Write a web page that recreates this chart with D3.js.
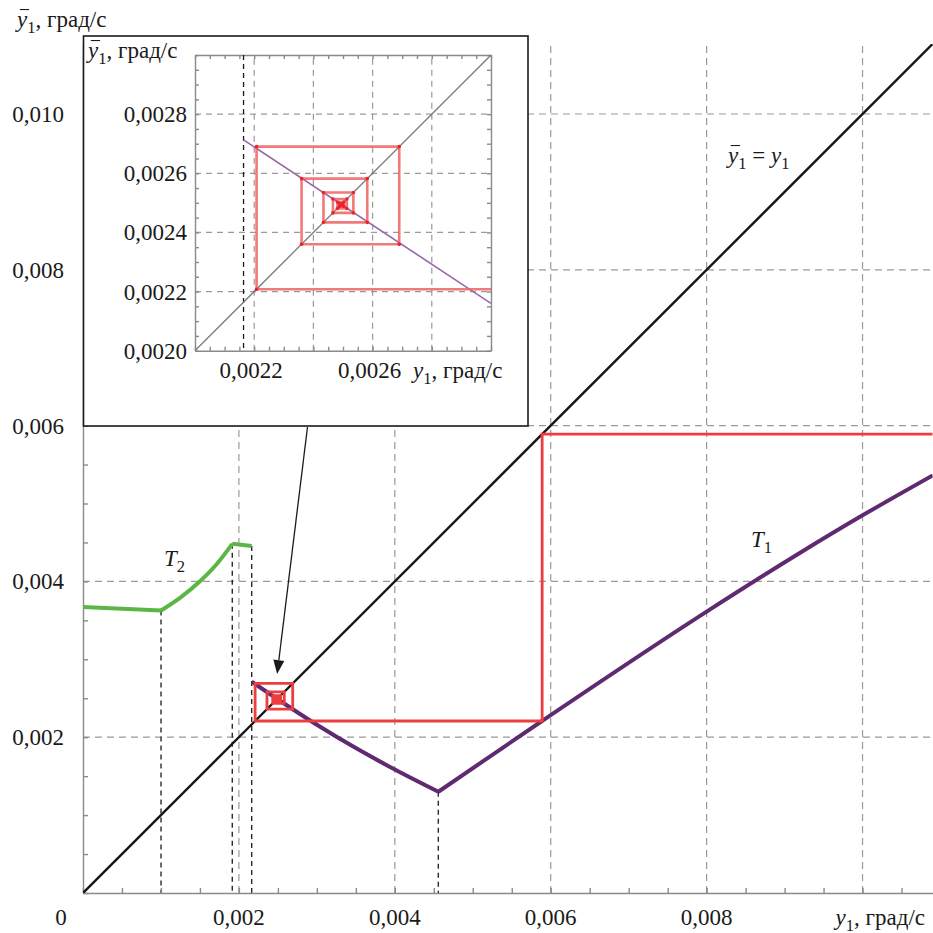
<!DOCTYPE html>
<html>
<head>
<meta charset="utf-8">
<script src="https://cdn.jsdelivr.net/npm/d3@7"></script>
<style>
  body { margin: 0; background: #fff; }
</style>
</head>
<body>
<svg id="chart" width="933" height="933"></svg>
<script>
// ---- data ----
const yTickValues = [0.002, 0.004, 0.006, 0.008, 0.010];
const yTickLabels = ["0,002", "0,004", "0,006", "0,008", "0,010"];
const xTickValues = [0.002, 0.004, 0.006, 0.008];
const xTickLabels = ["0,002", "0,004", "0,006", "0,008"];
const gridValues = [0.002, 0.004, 0.006, 0.008, 0.010];

// branch T2 of the map
const t2Flat = [[0, 0.003671], [0.001001, 0.003626]];
const t2Rise = [[0.001001, 0.003626], [0.001244, 0.003789], [0.001501, 0.004002], [0.001719, 0.004227], [0.001915, 0.004482]];
const t2Tail = [[0.001915, 0.004482], [0.002164, 0.004454]];

// branch T1 of the map
const t1Down = [[0.002164, 0.002713], [0.0030, 0.00216], [0.0035, 0.00186], [0.0040, 0.001585], [0.004558, 0.0013]];
const t1Up = [[0.004558, 0.0013], [0.005888, 0.002208], [0.0080, 0.003612], [0.0092, 0.004368], [0.0100, 0.004848], [0.0109, 0.005361]];

// switching points dropped to the abscissa
const dropX = [0.001001, 0.001915, 0.002164, 0.004558];
const dropY = [0.003626, 0.004482, 0.004454, 0.0013];

// iterates of the map (cobweb diagram)
const iterates = [0.00589, 0.002208, 0.00269, 0.00236, 0.002582, 0.002434, 0.002535, 0.002466,
                  0.002513, 0.002481, 0.002503, 0.002488, 0.002498, 0.00249, 0.002496, 0.002492, 0.002495, 0.002493];

// inset
const insetTickValues = [0.0020, 0.0022, 0.0024, 0.0026, 0.0028];
const insetTickLabels = ["0,0020", "0,0022", "0,0024", "0,0026", "0,0028"];
const insetXLabelValues = [0.0022, 0.0026];
const insetXLabels = ["0,0022", "0,0026"];
const insetGrid = [0.0022, 0.0024, 0.0026, 0.0028];
const switchX = 0.002164;

// ---- layout ----
const svg = d3.select("#chart");
const FONT = "'Liberation Serif'";
const FS = 23;
const VMAX = 0.0109;
const x = d3.scaleLinear().domain([0, VMAX]).range([83, 932.7]);
const y = d3.scaleLinear().domain([0, VMAX]).range([893, 43.9]);

const GRID = "#9a9a9a";
const AXIS = "#8a8a8a";
const RED = "#ec3e3e";
const PURPLE = "#5f2a6f";
const GREEN = "#5cb646";

const defs = svg.append("defs");
defs.append("clipPath").attr("id", "mainClip").append("rect")
  .attr("x", x(0)).attr("y", y(VMAX)).attr("width", x(VMAX) - x(0)).attr("height", y(0) - y(VMAX));

const line = d3.line().x(d => x(d[0])).y(d => y(d[1]));
const smooth = d3.line().x(d => x(d[0])).y(d => y(d[1])).curve(d3.curveMonotoneX);

function label(parent, px, py, str, anchor) {
  return parent.append("text").attr("x", px).attr("y", py)
    .style("font-family", FONT).style("font-size", FS + "px").style("fill", "#1a1a1a")
    .attr("text-anchor", anchor || "start").text(str);
}

// rich text with italic letters, subscripts and overlines
function richText(parent, px, py, size, parts, anchor) {
  const t = parent.append("text").attr("x", px).attr("y", py)
    .style("font-family", FONT).style("font-size", size + "px").style("fill", "#1a1a1a")
    .attr("text-anchor", anchor || "start");
  let shifted = false;
  const overIdx = [];
  let idx = 0;
  parts.forEach(p => {
    const s = t.append("tspan").text(p.t);
    if (p.italic) s.style("font-style", "italic");
    if (p.sub) {
      s.style("font-size", (size * 0.72) + "px");
      if (!shifted) { s.attr("dy", size * 0.26); shifted = true; }
    } else if (shifted) {
      s.attr("dy", -size * 0.26); shifted = false;
    }
    if (p.over) for (let k = 0; k < p.t.length; k++) overIdx.push(idx + k);
    idx += p.t.length;
  });
  overIdx.forEach(i => {
    const r = t.node().getExtentOfChar(i);
    parent.append("line")
      .attr("x1", r.x + size * 0.12).attr("x2", r.x + r.width + size * 0.08)
      .attr("y1", py - size * 0.76).attr("y2", py - size * 0.76)
      .attr("stroke", "#1a1a1a").attr("stroke-width", 1.1);
  });
  return t;
}
const yBarUnits = [{t: "y", italic: true, over: true}, {t: "1", sub: true}, {t: ", град/с"}];
const yUnits = [{t: "y", italic: true}, {t: "1", sub: true}, {t: ", град/с"}];

// ---- main grid ----
const grid = svg.append("g");
grid.selectAll(".gx").data(gridValues).join("line")
  .attr("x1", d => x(d)).attr("x2", d => x(d)).attr("y1", y(0)).attr("y2", y(VMAX))
  .attr("stroke", GRID).attr("stroke-width", 1.2).attr("stroke-dasharray", "7,5");
grid.selectAll(".gy").data(gridValues).join("line")
  .attr("x1", x(0)).attr("x2", x(VMAX)).attr("y1", d => y(d)).attr("y2", d => y(d))
  .attr("stroke", GRID).attr("stroke-width", 1.2).attr("stroke-dasharray", "7,5");

// drop lines from switching points
svg.append("g").selectAll("line").data(dropX).join("line")
  .attr("x1", d => x(d)).attr("x2", d => x(d))
  .attr("y1", (d, i) => y(dropY[i])).attr("y2", y(0))
  .attr("stroke", "#2a2a2a").attr("stroke-width", 1.4).attr("stroke-dasharray", "5,4");

// ---- axes with minor ticks ----
const minor = d3.range(0, VMAX + 1e-9, 0.0005);
svg.append("g").attr("transform", `translate(0,${y(0)})`)
  .call(d3.axisBottom(x).tickValues(minor).tickSize(-5).tickSizeOuter(0).tickFormat(""))
  .call(g => g.selectAll("line, path").attr("stroke", AXIS).attr("stroke-width", 1.4));
svg.append("g").attr("transform", `translate(${x(0)},0)`)
  .call(d3.axisLeft(y).tickValues(minor).tickSize(-5).tickSizeOuter(0).tickFormat(""))
  .call(g => g.selectAll("line, path").attr("stroke", AXIS).attr("stroke-width", 1.4));

// ---- curves ----
const plot = svg.append("g").attr("clip-path", "url(#mainClip)");
plot.append("path").datum([[0, 0], [VMAX, VMAX]]).attr("d", line)
  .attr("fill", "none").attr("stroke", "#161616").attr("stroke-width", 2.4);

[t2Flat, t2Tail].forEach(s => plot.append("path").datum(s).attr("d", line)
  .attr("fill", "none").attr("stroke", GREEN).attr("stroke-width", 4));
plot.append("path").datum(t2Rise).attr("d", smooth)
  .attr("fill", "none").attr("stroke", GREEN).attr("stroke-width", 4);

[t1Down, t1Up].forEach(s => plot.append("path").datum(s).attr("d", smooth)
  .attr("fill", "none").attr("stroke", PURPLE).attr("stroke-width", 4).attr("stroke-linejoin", "round"));

// cobweb
const web = [[VMAX, iterates[0]]];
iterates.forEach((v, i) => {
  web.push([v, v]);
  if (i + 1 < iterates.length) web.push([v, iterates[i + 1]]);
});
plot.append("path").datum(web).attr("d", line)
  .attr("fill", "none").attr("stroke", RED).attr("stroke-width", 2.8).attr("stroke-linejoin", "miter");

// ---- main labels ----
const labels = svg.append("g");
yTickValues.forEach((v, i) => label(labels, 64, y(v) + 8, yTickLabels[i], "end"));
xTickValues.forEach((v, i) => label(labels, x(v), 925, xTickLabels[i], "middle"));
label(labels, 61, 925, "0", "middle");
richText(labels, 925, 925, FS, yUnits, "end");
richText(labels, 17, 27, FS, yBarUnits);
richText(labels, 164, 566, FS, [{t: "T", italic: true}, {t: "2", sub: true}]);
richText(labels, 751, 547, FS, [{t: "T", italic: true}, {t: "1", sub: true}]);
richText(labels, 728, 163, FS, [{t: "y", italic: true, over: true}, {t: "1", sub: true}, {t: " = "},
                                {t: "y", italic: true}, {t: "1", sub: true}]);

// ---- inset ----
const inset = svg.append("g");
inset.append("rect").attr("x", 83.5).attr("y", 36).attr("width", 444.5).attr("height", 390)
  .attr("fill", "#fff").attr("stroke", "#1a1a1a").attr("stroke-width", 1.6);

const ix = d3.scaleLinear().domain([0.002, 0.003]).range([195, 491]);
const iy = d3.scaleLinear().domain([0.002, 0.003]).range([350.7, 55]);
defs.append("clipPath").attr("id", "insetClip").append("rect")
  .attr("x", 195).attr("y", 55).attr("width", 296).attr("height", 295.7);
const iline = d3.line().x(d => ix(d[0])).y(d => iy(d[1]));

inset.selectAll(".igx").data(insetGrid).join("line")
  .attr("x1", d => ix(d)).attr("x2", d => ix(d)).attr("y1", iy(0.002)).attr("y2", iy(0.003))
  .attr("stroke", GRID).attr("stroke-width", 1.2).attr("stroke-dasharray", "6,5");
inset.selectAll(".igy").data(insetGrid).join("line")
  .attr("x1", ix(0.002)).attr("x2", ix(0.003)).attr("y1", d => iy(d)).attr("y2", d => iy(d))
  .attr("stroke", GRID).attr("stroke-width", 1.2).attr("stroke-dasharray", "6,5");

const iminor = d3.range(0.002, 0.003 + 1e-9, 0.00005);
const styleAx = g => g.selectAll("line, path").attr("stroke", AXIS).attr("stroke-width", 1.4);
inset.append("g").attr("transform", `translate(0,${iy(0.002)})`)
  .call(d3.axisBottom(ix).tickValues(iminor).tickSize(-4).tickSizeOuter(0).tickFormat("")).call(styleAx);
inset.append("g").attr("transform", `translate(0,${iy(0.003)})`)
  .call(d3.axisTop(ix).tickValues(iminor).tickSize(-4).tickSizeOuter(0).tickFormat("")).call(styleAx);
inset.append("g").attr("transform", `translate(${ix(0.002)},0)`)
  .call(d3.axisLeft(iy).tickValues(iminor).tickSize(-4).tickSizeOuter(0).tickFormat("")).call(styleAx);
inset.append("g").attr("transform", `translate(${ix(0.003)},0)`)
  .call(d3.axisRight(iy).tickValues(iminor).tickSize(-4).tickSizeOuter(0).tickFormat("")).call(styleAx);

const iplot = inset.append("g").attr("clip-path", "url(#insetClip)");
iplot.append("line").attr("x1", ix(switchX)).attr("x2", ix(switchX)).attr("y1", iy(0.003)).attr("y2", iy(0.002))
  .attr("stroke", "#1a1a1a").attr("stroke-width", 1.3).attr("stroke-dasharray", "5,4");
iplot.append("path").datum([[0.002, 0.002], [0.003, 0.003]]).attr("d", iline)
  .attr("fill", "none").attr("stroke", "#7a7a7a").attr("stroke-width", 1.3);
iplot.append("path").datum(t1Down.slice(0, 2)).attr("d", iline)
  .attr("fill", "none").attr("stroke", "#9a66a8").attr("stroke-width", 1.6);
iplot.append("path").datum(web).attr("d", iline)
  .attr("fill", "none").attr("stroke", "#f06262").attr("stroke-opacity", 0.85).attr("stroke-width", 2.6);
iplot.selectAll("circle").data(web.slice(1)).join("circle")
  .attr("cx", d => ix(d[0])).attr("cy", d => iy(d[1])).attr("r", 1.8).attr("fill", "#e8242c");

insetTickValues.forEach((v, i) => label(inset, 187, iy(v) + 8, insetTickLabels[i], "end"));
insetXLabelValues.forEach((v, i) => label(inset, ix(v) - 3, 378, insetXLabels[i], "middle"));
richText(inset, 413, 378, FS, yUnits);
richText(inset, 88, 58, FS, yBarUnits);

// ---- arrow from inset to the fixed point ----
const arrowStart = [307.5, 427];
const arrowTip = [x(0.00249), y(0.00281)];
const dx = arrowTip[0] - arrowStart[0], dy = arrowTip[1] - arrowStart[1];
const len = Math.hypot(dx, dy), ux = dx / len, uy = dy / len;
const headL = 14, headW = 5.5;
const base = [arrowTip[0] - ux * headL, arrowTip[1] - uy * headL];
svg.append("line").attr("x1", arrowStart[0]).attr("y1", arrowStart[1])
  .attr("x2", base[0]).attr("y2", base[1]).attr("stroke", "#1a1a1a").attr("stroke-width", 1.3);
svg.append("path").attr("d", d3.line()([
  arrowTip,
  [base[0] - uy * headW, base[1] + ux * headW],
  [base[0] + uy * headW, base[1] - ux * headW]
]) + "Z").attr("fill", "#1a1a1a");
</script>
</body>
</html>
